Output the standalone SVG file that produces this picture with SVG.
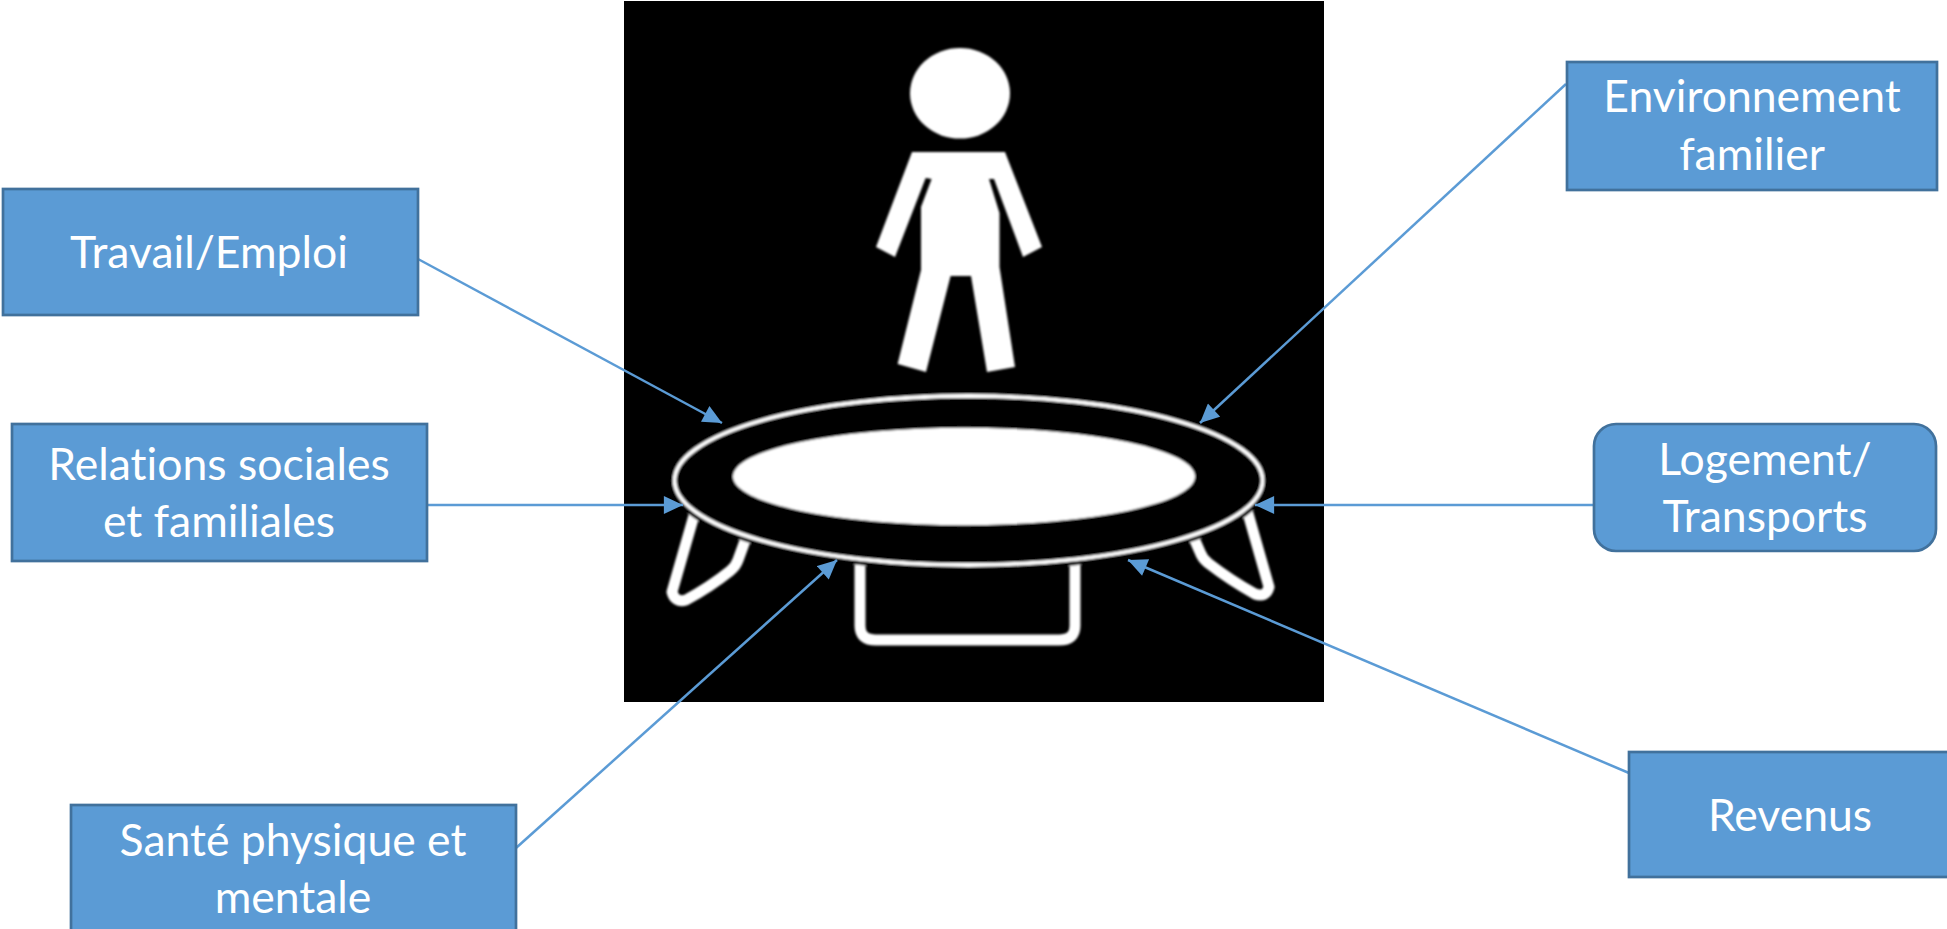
<svg xmlns="http://www.w3.org/2000/svg" width="1947" height="929" viewBox="0 0 1947 929">
<style>
.box{fill:#5B9BD5;stroke:#41719C;stroke-width:2.7}
.lbl{font-family:"Lato","Open Sans",sans-serif;font-size:44.5px;font-variant-ligatures:none;fill:#fff;text-anchor:middle}
.cn{fill:none;stroke:#5B9BD5;stroke-width:2.5;marker-end:url(#ah)}
.leg{fill:none;stroke:#fff;stroke-width:11;stroke-linejoin:round}
</style>
<defs>
<marker id="ah" markerUnits="userSpaceOnUse" markerWidth="20" markerHeight="18" refX="17" refY="8" orient="auto" viewBox="0 0 17 16"><path d="M0 0L17 8L0 16Z" fill="#5B9BD5"/></marker>
<filter id="soft" x="-5%" y="-5%" width="110%" height="110%"><feGaussianBlur stdDeviation="0.8"/></filter>
</defs>
<rect width="1947" height="929" fill="#fff"/>
<g id="trampoline-picture">
<rect x="624" y="1" width="700" height="701" fill="#000"/>
<g filter="url(#soft)">
<ellipse cx="960" cy="93.3" rx="50" ry="45.3" fill="#fff"/>
<path fill="#fff" d="M912 152H1005L1042 247L1023 257L994 179H989L999.5 213V267L1015 367L987 372L971 276H950.6L926 372L897.6 364L921 270V207L931.6 179L925.7 178L895 257L876 247Z"/>
<path class="leg" d="M860 560V626Q860 640 876 640H1059Q1075 640 1075 626V560"/>
<path class="leg" d="M695 512L672 592Q675 603 686 600Q710 587 730 571Q736 566 738 560L746 538"/>
<path class="leg" d="M1247 510L1269 587Q1266 598 1255 594Q1230 580 1208 563Q1202 558 1200 552L1193 536"/>
<ellipse cx="968.6" cy="480.5" rx="296" ry="86" fill="#000" stroke="#000" stroke-width="9"/>
<ellipse cx="968.6" cy="480.5" rx="294" ry="84.5" fill="#000" stroke="#fff" stroke-width="3.8"/>
<ellipse cx="964" cy="476.5" rx="231" ry="48.7" fill="#fff"/>
</g>
</g>
<g id="connectors">
<path class="cn" d="M418 259L722 423"/>
<path class="cn" d="M1566 84L1200 423"/>
<path class="cn" d="M427 505H683"/>
<path class="cn" d="M1593 505H1255"/>
<path class="cn" d="M516 848L837 560"/>
<path class="cn" d="M1629 773L1128 560"/>
</g>
<g id="node-travail"><rect class="box" x="3" y="189" width="415" height="126"/><text class="lbl" x="209" y="268">Travail/Emploi</text></g>
<g id="node-relations"><rect class="box" x="12" y="424" width="415" height="137"/><text class="lbl" x="219" y="480">Relations sociales</text><text class="lbl" x="219" y="537">et familiales</text></g>
<g id="node-environnement"><rect class="box" x="1567" y="62" width="370" height="128"/><text class="lbl" x="1752" y="112">Environnement</text><text class="lbl" x="1752" y="170">familier</text></g>
<g id="node-logement"><rect class="box" x="1594" y="424" width="342" height="127" rx="22"/><text class="lbl" x="1765" y="475">Logement/</text><text class="lbl" x="1765" y="532">Transports</text></g>
<g id="node-sante"><rect class="box" x="71" y="805" width="445" height="140"/><text class="lbl" x="293" y="856">Santé physique et</text><text class="lbl" x="293" y="913">mentale</text></g>
<g id="node-revenus"><rect class="box" x="1629" y="752" width="340" height="125"/><text class="lbl" x="1790" y="831">Revenus</text></g>
</svg>
